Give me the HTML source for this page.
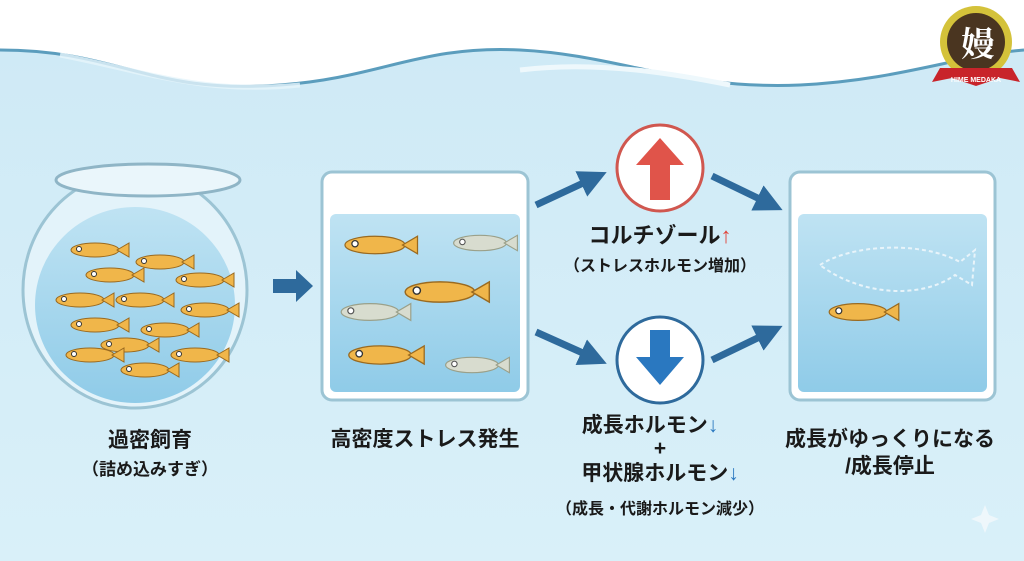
<!DOCTYPE html>
<html><head><meta charset="utf-8"><style>
html,body{margin:0;padding:0;width:1024px;height:561px;overflow:hidden;background:#fff}
svg{display:block}
text{font-family:"Liberation Sans","Noto Sans CJK JP",sans-serif;font-weight:bold;fill:#1a1a1a;text-anchor:middle}
</style></head><body>
<svg width="1024" height="561" viewBox="0 0 1024 561" xmlns="http://www.w3.org/2000/svg">
<defs>
<linearGradient id="bg" x1="0" y1="0" x2="0" y2="1"><stop offset="0" stop-color="#cfeaf6"/><stop offset="1" stop-color="#d9f0f9"/></linearGradient>
<linearGradient id="wat" x1="0" y1="0" x2="0" y2="1"><stop offset="0" stop-color="#bfe3f3"/><stop offset="1" stop-color="#8fcbe8"/></linearGradient>
<g id="fish"><ellipse cx="0" cy="0" rx="24" ry="7" fill="#f0b64a" stroke="#9a6a20" stroke-width="1"/><path d="M22,0 L34,-7 L34,7 Z" fill="#f0b64a" stroke="#9a6a20" stroke-width="1"/><circle cx="-16" cy="-1" r="2.5" fill="#fff" stroke="#333" stroke-width="1"/></g>
<g id="pfish"><ellipse cx="0" cy="0" rx="24" ry="7" fill="#d8dccf" stroke="#9aa08a" stroke-width="1"/><path d="M22,0 L34,-7 L34,7 Z" fill="#d8dccf" stroke="#9aa08a" stroke-width="1"/><circle cx="-16" cy="-1" r="2.5" fill="#fff" stroke="#555" stroke-width="1"/></g>
<marker id="ah" markerWidth="4" markerHeight="4" refX="2" refY="2" orient="auto"><path d="M0,0 L4,2 L0,4 Z" fill="#2e6a9c"/></marker>
</defs>
<path d="M0,50 C120,50 150,95 280,85 C380,78 420,45 520,50 C620,55 680,90 800,85 C900,80 960,55 1024,50 L1024,561 L0,561 Z" fill="url(#bg)"/>
<path d="M0,50 C120,50 150,95 280,85 C380,78 420,45 520,50 C620,55 680,90 800,85 C900,80 960,55 1024,50" fill="none" stroke="#5b9dbd" stroke-width="3"/>
<path d="M60,55 C140,70 200,95 300,85" fill="none" stroke="#e6f5fb" stroke-width="5" opacity=".8"/>
<path d="M520,70 C600,60 680,75 730,85" fill="none" stroke="#eef8fc" stroke-width="5"/>
<!-- bowl -->
<ellipse cx="135" cy="290" rx="112" ry="118" fill="#e3f3fa" stroke="#9cc4d4" stroke-width="3"/>
<ellipse cx="135" cy="305" rx="100" ry="98" fill="url(#wat)"/>
<ellipse cx="148" cy="180" rx="92" ry="16" fill="#eaf6fb" stroke="#8fb5c6" stroke-width="3"/>
<g>
<use href="#fish" x="95" y="250"/><use href="#fish" x="160" y="262"/><use href="#fish" x="110" y="275"/><use href="#fish" x="200" y="280"/>
<use href="#fish" x="80" y="300"/><use href="#fish" x="140" y="300"/><use href="#fish" x="205" y="310"/><use href="#fish" x="95" y="325"/>
<use href="#fish" x="165" y="330"/><use href="#fish" x="125" y="345"/><use href="#fish" x="195" y="355"/><use href="#fish" x="90" y="355"/><use href="#fish" x="145" y="370"/>
</g>
<!-- arrow 1 -->
<path d="M273,279 L296,279 L296,270 L313,286 L296,302 L296,293 L273,293 Z" fill="#2e6a9c"/>
<!-- tank 2 -->
<rect x="322" y="172" width="206" height="228" rx="10" fill="#fff" stroke="#9cc4d4" stroke-width="3"/>
<rect x="330" y="214" width="190" height="178" rx="6" fill="url(#wat)"/>
<use href="#fish" transform="translate(375,245) scale(1.25)"/><use href="#pfish" transform="translate(480,243) scale(1.1)"/><use href="#fish" transform="translate(440,292) scale(1.45)"/>
<use href="#pfish" transform="translate(370,312) scale(1.2)"/><use href="#fish" transform="translate(380,355) scale(1.3)"/><use href="#pfish" transform="translate(472,365) scale(1.1)"/>
<!-- tank 3 -->
<rect x="790" y="172" width="205" height="228" rx="10" fill="#fff" stroke="#9cc4d4" stroke-width="3"/>
<rect x="798" y="214" width="189" height="178" rx="6" fill="url(#wat)"/>
<path d="M820,265 C850,245 920,240 960,262 L975,250 L972,285 L955,275 C920,300 860,295 820,265 Z" fill="none" stroke="#e8f4fa" stroke-width="2" stroke-dasharray="4 3"/>
<use href="#fish" transform="translate(858,312) scale(1.2)"/>
<!-- connectors -->
<g stroke="#2e6a9c" stroke-width="7" marker-end="url(#ah)" fill="none">
<line x1="536" y1="205" x2="594" y2="178"/>
<line x1="712" y1="176" x2="770" y2="204"/>
<line x1="536" y1="332" x2="594" y2="358"/>
<line x1="712" y1="360" x2="770" y2="332"/>
</g>
<!-- circles -->
<circle cx="660" cy="168" r="43" fill="#fff" stroke="#d0574f" stroke-width="3"/>
<path d="M660,138 L684,165 L670,165 L670,200 L650,200 L650,165 L636,165 Z" fill="#e0544a"/>
<circle cx="660" cy="360" r="43" fill="#fff" stroke="#2e6a9c" stroke-width="3"/>
<path d="M650,330 L670,330 L670,357 L684,357 L660,385 L636,357 L650,357 Z" fill="#2a78c0"/>
<!-- text -->
<text x="150" y="447" font-size="21">過密飼育</text>
<text x="150" y="475" font-size="17">（詰め込みすぎ）</text>
<text x="425" y="446" font-size="21">高密度ストレス発生</text>
<text x="660" y="243" font-size="22">コルチゾール<tspan fill="#e0443a">↑</tspan></text>
<text x="660" y="271" font-size="16">（ストレスホルモン増加）</text>
<text x="650" y="432" font-size="21">成長ホルモン<tspan fill="#2a78c0">↓</tspan></text>
<text x="660" y="455" font-size="21">+</text>
<text x="660" y="480" font-size="21">甲状腺ホルモン<tspan fill="#2a78c0">↓</tspan></text>
<text x="660" y="514" font-size="16">（成長・代謝ホルモン減少）</text>
<text x="890" y="446" font-size="21">成長がゆっくりになる</text>
<text x="890" y="473" font-size="21">/成長停止</text>
<path d="M985,505 L989,515 L999,519 L989,523 L985,533 L981,523 L971,519 L981,515 Z" fill="#eef7fb"/>
<!-- logo -->
<circle cx="976" cy="42" r="36" fill="#d4c23a"/>
<circle cx="976" cy="42" r="29" fill="#4a3520"/>
<text x="978" y="56" font-size="34" style="fill:#fff;font-family:'Noto Serif CJK SC',serif">嫚</text>
<path d="M940,68 L1012,68 L1020,82 L1000,78 L976,86 L952,78 L932,82 Z" fill="#c8242a"/>
<text x="976" y="82" font-size="7" style="fill:#fff">HIME MEDAKA</text>
</svg>
</body></html>
